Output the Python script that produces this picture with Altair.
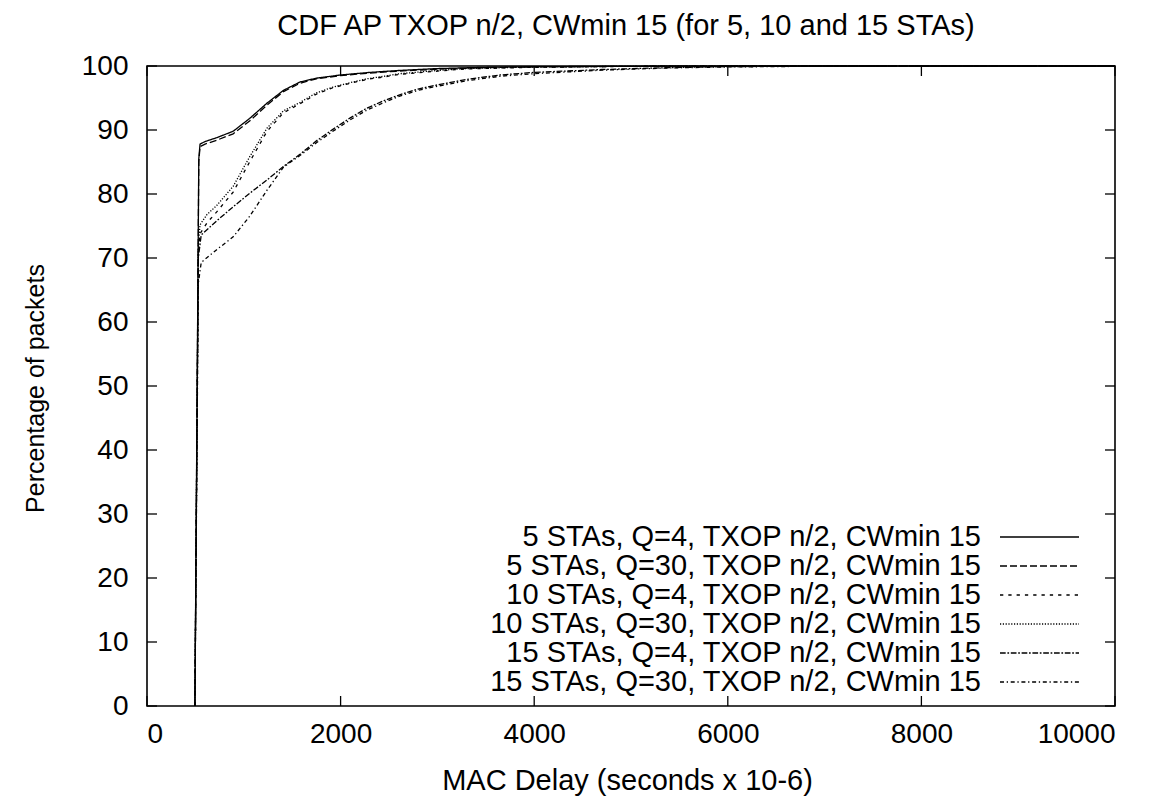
import altair as alt
import pandas as pd

# ---- data ----
labels = [
    "5 STAs, Q=4, TXOP n/2, CWmin 15",
    "5 STAs, Q=30, TXOP n/2, CWmin 15",
    "10 STAs, Q=4, TXOP n/2, CWmin 15",
    "10 STAs, Q=30, TXOP n/2, CWmin 15",
    "15 STAs, Q=4, TXOP n/2, CWmin 15",
    "15 STAs, Q=30, TXOP n/2, CWmin 15",
]

x5 = [495, 535, 548, 600, 720, 890, 1060, 1240, 1410, 1580, 1750, 2000, 2300, 2600, 3000, 3500, 4000, 5000, 6000, 8000, 10000]
y5_q4 = [0, 85.5, 87.8, 88.2, 88.8, 89.8, 91.8, 94.2, 96.2, 97.5, 98.1, 98.6, 99.0, 99.3, 99.6, 99.8, 99.9, 99.95, 100, 100, 100]
y5_q30 = [0, 85.0, 87.4, 87.8, 88.4, 89.4, 91.4, 93.9, 96.0, 97.3, 98.0, 98.5, 98.9, 99.2, 99.5, 99.75, 99.85, 99.95, 100, 100, 100]

x10 = [495, 530, 548, 620, 720, 890, 1060, 1240, 1410, 1580, 1750, 1920, 2100, 2270, 2450, 2610, 3000, 3300, 4000, 5000, 6000, 8000, 10000]
y10_q4 = [0, 71.0, 73.8, 75.5, 77.2, 80.3, 85.0, 89.8, 92.7, 94.1, 95.6, 96.6, 97.3, 97.9, 98.3, 98.7, 99.2, 99.55, 99.8, 99.95, 100, 100, 100]
y10_q30 = [0, 72.0, 75.2, 76.8, 78.2, 81.2, 85.8, 90.3, 93.0, 94.3, 95.8, 96.7, 97.4, 98.0, 98.4, 98.8, 99.3, 99.6, 99.85, 99.95, 100, 100, 100]

x15 = [495, 530, 560, 720, 890, 1060, 1240, 1410, 1580, 1750, 1920, 2100, 2270, 2450, 2610, 2800, 2950, 3300, 3650, 4000, 4700, 5400, 6000, 7000, 8000, 10000]
y15_q4 = [0, 70.0, 73.6, 75.8, 78.0, 80.1, 82.2, 84.3, 86.2, 88.3, 90.1, 91.9, 93.4, 94.6, 95.5, 96.4, 96.9, 97.9, 98.6, 99.0, 99.45, 99.75, 99.9, 100, 100, 100]
y15_q30 = [0, 66.0, 69.3, 71.3, 73.3, 76.5, 80.6, 84.2, 86.0, 88.0, 89.8, 91.6, 93.1, 94.3, 95.3, 96.2, 96.7, 97.7, 98.4, 98.8, 99.35, 99.7, 99.85, 99.97, 100, 100]

x_ticks = [0, 2000, 4000, 6000, 8000, 10000]
y_ticks = [0, 10, 20, 30, 40, 50, 60, 70, 80, 90, 100]

# ---- styles ----
dashes = [[1, 0], [7, 3], [3.3, 5], [1.2, 1.6], [5.7, 1.7, 1.7, 1.7], [4, 2.7, 1.3, 2.7]]
FONT = "Liberation Sans"
FS = 28
W, H = 968, 640

series = [(x5, y5_q4), (x5, y5_q30), (x10, y10_q4), (x10, y10_q30), (x15, y15_q4), (x15, y15_q30)]
rows = []
for lab, (xs, ys) in zip(labels, series):
    for i, (xv, yv) in enumerate(zip(xs, ys)):
        rows.append({"series": lab, "delay": xv, "pct": yv, "i": i})
df = pd.DataFrame(rows)

xscale = alt.Scale(domain=[0, 10000], nice=False, zero=False)
yscale = alt.Scale(domain=[0, 100], nice=False)

lines = alt.Chart(df).mark_line(color="black", strokeWidth=1.3).encode(
    x=alt.X("delay:Q", scale=xscale,
            axis=alt.Axis(values=x_ticks, title="MAC Delay (seconds x 10-6)", labelFontSize=FS,
                          labelPadding=14, labelFont=FONT, titleFont=FONT, titleFontSize=29,
                          titleFontWeight="normal", titleX=W / 2 - 4, titleY=74, titleBaseline="middle",
                          labelColor="black", titleColor="black", format="d",
                          grid=False, ticks=False, domain=False)),
    y=alt.Y("pct:Q", scale=yscale,
            axis=alt.Axis(values=y_ticks, title="Percentage of packets", labelFontSize=FS,
                          labelPadding=19, labelFont=FONT, titleFont=FONT, titleFontSize=25,
                          titleFontWeight="normal", titleX=-112, titleY=H / 2 + 2, titleAngle=270,
                          titleAlign="center", titleBaseline="middle",
                          labelColor="black", titleColor="black", format="d",
                          grid=False, ticks=False, domain=False)),
    strokeDash=alt.StrokeDash("series:N", scale=alt.Scale(domain=labels, range=dashes), legend=None),
    order="i:Q",
)

xt = pd.DataFrame({"delay": x_ticks})
yt = pd.DataFrame({"pct": y_ticks})
tick_style = dict(color="black", strokeWidth=1.3)
xb = alt.Chart(xt).mark_rule(**tick_style).encode(x="delay:Q", y=alt.value(H), y2=alt.value(H - 10))
xtop = alt.Chart(xt).mark_rule(**tick_style).encode(x="delay:Q", y=alt.value(0), y2=alt.value(10))
yl = alt.Chart(yt).mark_rule(**tick_style).encode(y="pct:Q", x=alt.value(0), x2=alt.value(10))
yr = alt.Chart(yt).mark_rule(**tick_style).encode(y="pct:Q", x=alt.value(W), x2=alt.value(W - 10))

layers = [lines, xb, xtop, yl, yr]

# ---- in-plot key (gnuplot style: text left of sample) ----
key_y = [471, 500, 529, 558, 587, 616]
for lab, d, ky in zip(labels, dashes, key_y):
    ld = pd.DataFrame({"label": [lab]})
    layers.append(alt.Chart(ld).mark_text(align="right", baseline="middle", font=FONT, fontSize=29,
                                          color="black").encode(
        text="label:N", x=alt.value(834), y=alt.value(ky)))
    layers.append(alt.Chart(ld).mark_rule(color="black", strokeWidth=1.3, strokeDash=d).encode(
        x=alt.value(853), x2=alt.value(932), y=alt.value(ky)))

chart = alt.layer(*layers).properties(
    width=W, height=H,
    background="white",
    title=alt.TitleParams("CDF AP TXOP n/2, CWmin 15 (for 5, 10 and 15 STAs)", font=FONT, fontSize=29,
                          fontWeight="normal", color="black", anchor="middle", dx=-5, offset=11),
    autosize=alt.AutoSizeParams(type="none"),
    padding={"left": 147, "top": 66, "right": 47, "bottom": 90},
).configure_view(
    stroke="black", strokeWidth=1.6
).configure_axis(
    grid=False, ticks=False, domain=False
)

chart.save("out.html", embed_options={"renderer": "svg", "actions": False})
